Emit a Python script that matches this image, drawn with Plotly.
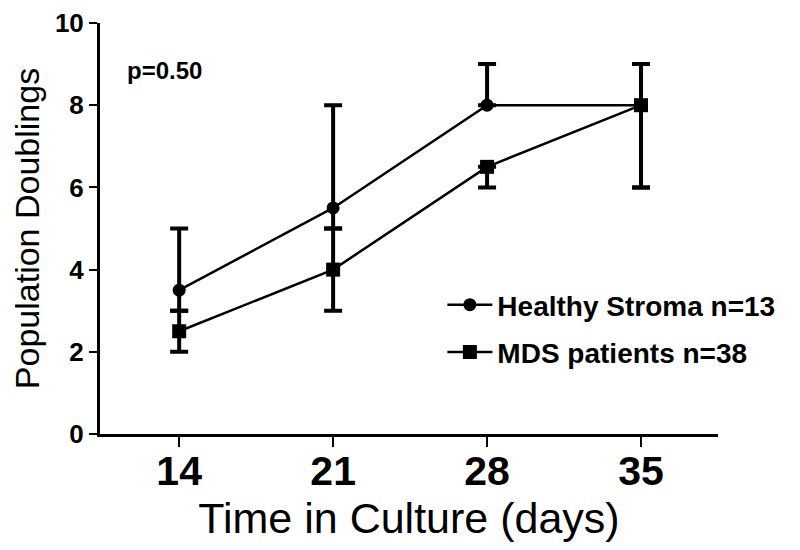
import plotly.graph_objects as go

days = [14, 21, 28, 35]
x_ticks = ["14", "21", "28", "35"]

healthy_name = "Healthy Stroma n=13"
healthy = [3.5, 5.5, 8.0, 8.0]
healthy_hi = [5.0, 8.0, 9.0, 9.0]
healthy_lo = [3.0, 5.0, 8.0, 6.0]

mds_name = "MDS patients n=38"
mds = [2.5, 4.0, 6.5, 8.0]
mds_hi = [3.0, 5.0, 6.5, 9.0]
mds_lo = [2.0, 3.0, 6.0, 6.0]

y_ticks = [0, 2, 4, 6, 8, 10]

FONT = "Liberation Sans, Arial"


def errs(vals, hi, lo):
    return [h - v for v, h in zip(vals, hi)], [v - l for v, l in zip(vals, lo)]


fig = go.Figure()
for name, vals, hi, lo, sym, size, leg in [
    (mds_name, mds, mds_hi, mds_lo, "square", 14, "legend2"),
    (healthy_name, healthy, healthy_hi, healthy_lo, "circle", 13, "legend"),
]:
    up, down = errs(vals, hi, lo)
    fig.add_trace(go.Scatter(
        x=days, y=vals, name="<b>" + name + "</b>", mode="lines+markers",
        line=dict(color="black", width=2.5),
        marker=dict(symbol=sym, size=size, color="black"),
        error_y=dict(type="data", symmetric=False, array=up, arrayminus=down,
                     color="black", thickness=4, width=9),
        legend=leg, showlegend=True,
    ))

fig.add_annotation(x=0.04, y=0.884, xref="paper", yref="paper", text="<b>p=0.50</b>",
                   showarrow=False, xanchor="left", yanchor="middle",
                   font=dict(family=FONT, size=24, color="black"))

leg_font = dict(family=FONT, size=28, color="black")
fig.update_layout(
    width=800, height=550,
    margin=dict(l=92, r=90, t=15, b=124),
    paper_bgcolor="white", plot_bgcolor="white",
    legend=dict(x=0.554, y=0.314, xanchor="left", yanchor="middle", bgcolor="rgba(0,0,0,0)",
                font=leg_font, itemwidth=45),
    legend2=dict(x=0.554, y=0.199, xanchor="left", yanchor="middle", bgcolor="rgba(0,0,0,0)",
                 font=leg_font, itemwidth=45),
    font=dict(family=FONT, color="black"),
)

fig.update_xaxes(range=[10.4, 38.5], tickvals=days, ticktext=x_ticks, automargin=False,
                 showline=True, linecolor="black", linewidth=3, showgrid=False, zeroline=False,
                 ticks="outside", ticklen=10, tickwidth=2, tickcolor="black",
                 ticklabelstandoff=-11, ticklabeloverflow="allow",
                 tickfont=dict(family=FONT, size=41, color="black", weight="bold"),
                 title=dict(text="Time in Culture (days)", standoff=6,
                            font=dict(family=FONT, size=43, color="black")))
fig.update_yaxes(range=[0, 10], tickvals=y_ticks, automargin=False,
                 showline=True, linecolor="black", linewidth=3, showgrid=False, zeroline=False,
                 ticks="outside", ticklen=8, tickwidth=2, tickcolor="black",
                 ticklabeloverflow="allow",
                 tickfont=dict(family=FONT, size=26, color="black", weight="bold"),
                 title=dict(text="Population Doublings", standoff=27,
                            font=dict(family=FONT, size=34, color="black")))

fig.write_html("out.html")
